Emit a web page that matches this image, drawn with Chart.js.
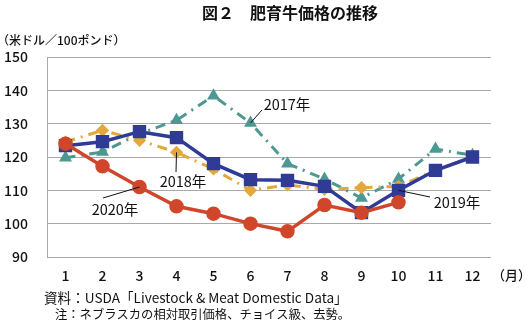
<!DOCTYPE html>
<html>
<head>
<meta charset="utf-8">
<script src="https://cdn.jsdelivr.net/npm/chart.js@4"></script>
<style>
  html, body { margin: 0; padding: 0; background: #fff; }
  #wrap { position: relative; width: 527px; height: 329px; }
</style>
</head>
<body>
<div id="wrap"><canvas id="chart" width="527" height="329"></canvas></div>
<script>
// --- data ---
const months = ['1', '2', '3', '4', '5', '6', '7', '8', '9', '10', '11', '12'];
const yTicks = [90, 100, 110, 120, 130, 140, 150];
const y2017 = [119.8, 121.5, 127, 131, 138.4, 130.2, 118, 113.4, 107.7, 113.4, 122.4, 120.5];
const y2018 = [124.5, 128, 125, 121.4, 116.4, 110, 111.6, 110.3, 110.8, 111.2, 116, 120];
const y2019 = [123.4, 124.6, 127.6, 125.8, 118, 113.2, 113, 111.2, 103.3, 110, 116, 120];
const y2020 = [124, 117.2, 111, 105.2, 103, 100, 97.7, 105.6, 103.3, 106.4, null, null];

const FONT = "'Noto Sans CJK JP', 'Noto Sans', sans-serif";

// callout labels with a leader line from the point to (lx, ly)
const callouts = [
  { text: '2017年', i: 5, v: 130.2, lx: 262, ly: 110, tx: 287, ty: 104 },
  { text: '2018年', i: 3, v: 121.4, lx: 176, ly: 172, tx: 183, ty: 181 },
  { text: '2020年', i: 2, v: 111, lx: 103, ly: 198, tx: 115, ty: 209 },
  { text: '2019年', i: 9, v: 110, lx: 430, ly: 197, tx: 457, ty: 202 }
];

const textPlugin = {
  id: 'texts',
  afterDraw(chart) {
    const ctx = chart.ctx;
    const xs = chart.scales.x, ys = chart.scales.y;
    ctx.save();
    ctx.fillStyle = '#111';
    ctx.textBaseline = 'middle';

    ctx.font = 'bold 16px ' + FONT;
    ctx.textAlign = 'center';
    ctx.fillText('図２　肥育牛価格の推移', 290, 13);

    ctx.font = '500 12px ' + FONT;
    ctx.textAlign = 'left';
    ctx.fillText('（米ドル／100ポンド）', -3, 40);

    ctx.font = '500 13px ' + FONT;
    ctx.fillText('（月）', 492, 275);

    ctx.font = '13.6px ' + FONT;
    ctx.fillText('資料：USDA「Livestock & Meat Domestic Data」', 44, 298);
    ctx.font = '12.3px ' + FONT;
    ctx.fillText('注：ネブラスカの相対取引価格、チョイス級、去勢。', 55, 314);

    ctx.font = '14.5px ' + FONT;
    ctx.textAlign = 'center';
    ctx.strokeStyle = '#111';
    ctx.lineWidth = 1;
    callouts.forEach(c => {
      const px = xs.getPixelForValue(c.i);
      const py = ys.getPixelForValue(c.v);
      ctx.beginPath();
      ctx.moveTo(px, py);
      ctx.lineTo(c.lx, c.ly);
      ctx.stroke();
      ctx.fillText(c.text, c.tx, c.ty);
    });
    ctx.restore();
  }
};

new Chart(document.getElementById('chart'), {
  type: 'line',
  data: {
    labels: months,
    datasets: [
      {
        label: '2020年', data: y2020, order: 1,
        borderColor: '#d0462b', backgroundColor: '#d0462b',
        borderWidth: 3.5, pointStyle: 'circle', pointRadius: 5.5
      },
      {
        label: '2019年', data: y2019, order: 2,
        borderColor: '#2f3b95', backgroundColor: '#2f3b95',
        borderWidth: 3.5, pointStyle: 'rect', pointRadius: 7
      },
      {
        label: '2018年', data: y2018, order: 3,
        borderColor: '#e3a83c', backgroundColor: '#e3a83c',
        borderWidth: 3, borderDash: [10, 6, 2, 6],
        pointStyle: 'rectRot', pointRadius: 4.5
      },
      {
        label: '2017年', data: y2017, order: 4,
        borderColor: '#4e9893', backgroundColor: '#4e9893',
        borderWidth: 3, borderDash: [10, 6, 2, 6],
        pointStyle: 'triangle', pointRadius: 4.5
      }
    ]
  },
  options: {
    responsive: false,
    animation: false,
    layout: { padding: { top: 57, right: 36, left: 0, bottom: 0 } },
    plugins: { legend: { display: false }, tooltip: { enabled: false } },
    elements: { line: { tension: 0 }, point: { borderWidth: 0 } },
    scales: {
      x: {
        offset: true,
        grid: { display: false, drawTicks: false },
        border: { display: false },
        ticks: { color: '#111', padding: 10, font: { family: FONT, size: 14, weight: '500' } },
        afterFit(scale) { scale.height = 72; }
      },
      y: {
        min: 90, max: 150,
        afterBuildTicks(scale) { scale.ticks = yTicks.map(v => ({ value: v })); },
        grid: { color: '#a9a9a9', lineWidth: 1, drawTicks: false },
        border: { display: true, color: '#a9a9a9' },
        ticks: { color: '#111', padding: 19, font: { family: FONT, size: 14, weight: '500' } },
        afterFit(scale) { scale.width = 47; }
      }
    }
  },
  plugins: [textPlugin]
});
</script>
</body>
</html>
